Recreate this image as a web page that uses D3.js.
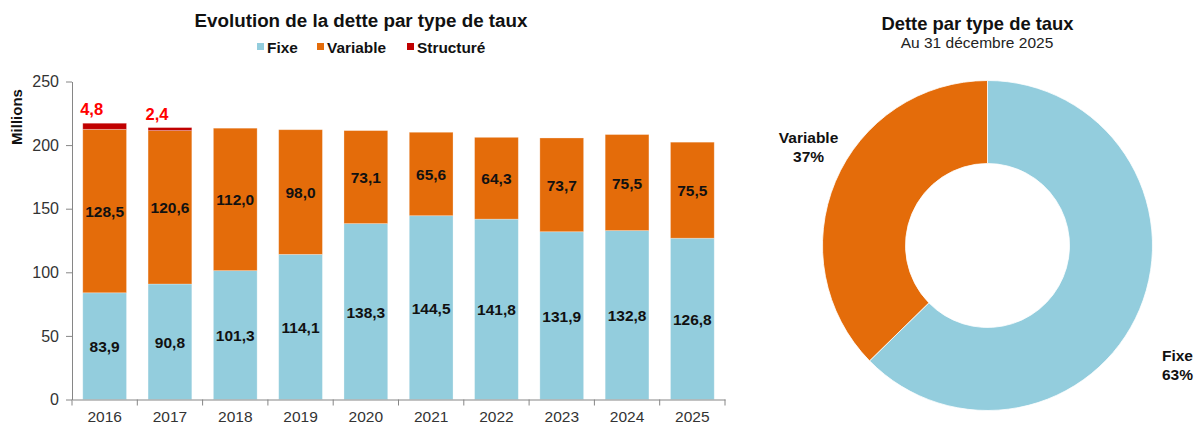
<!doctype html>
<html lang="fr">
<head>
<meta charset="UTF-8">
<title>Dette par type de taux</title>
<style>
  body { margin: 0; background: #fff; }
  svg text { font-family: "Liberation Sans", Arial, sans-serif; }
</style>
</head>
<body>
<svg id="chart" width="1195" height="425"></svg>
<script src="https://cdn.jsdelivr.net/npm/d3@7/dist/d3.min.js"></script>
<script>
// données
const years = ["2016", "2017", "2018", "2019", "2020", "2021", "2022", "2023", "2024", "2025"];
const fixe = [83.9, 90.8, 101.3, 114.1, 138.3, 144.5, 141.8, 131.9, 132.8, 126.8];
const variable = [128.5, 120.6, 112.0, 98.0, 73.1, 65.6, 64.3, 73.7, 75.5, 75.5];
const structure = [4.8, 2.4, 0, 0, 0, 0, 0, 0, 0, 0];
const seriesNames = ["Fixe", "Variable", "Structuré"];
const yTicks = [0, 50, 100, 150, 200, 250];

const colors = { "Fixe": "#93cddd", "Variable": "#e46c0a", "Structuré": "#c00000" };
const fmt = v => d3.format(".1f")(v).replace(".", ",");

const svg = d3.select("#chart");

// ---------- histogramme empilé ----------
const x = d3.scaleBand().domain(years).range([72, 725]).paddingInner(0.33).paddingOuter(0.165);
const y = d3.scaleLinear().domain([0, 250]).range([399.5, 81.5]);

const rows = years.map((yr, i) => ({ year: yr, "Fixe": fixe[i], "Variable": variable[i], "Structuré": structure[i] }));
const stack = d3.stack().keys(seriesNames)(rows);

svg.append("text")
  .attr("x", 361).attr("y", 27)
  .attr("text-anchor", "middle")
  .attr("font-size", 18.8).attr("font-weight", "bold").attr("fill", "#111")
  .text("Evolution de la dette par type de taux");

// légende
const legendX = [257, 317, 407];
const legend = svg.append("g");
seriesNames.forEach((s, i) => {
  legend.append("rect").attr("x", legendX[i]).attr("y", 43).attr("width", 7).attr("height", 7).attr("fill", colors[s]);
  legend.append("text").attr("x", legendX[i] + 10).attr("y", 53)
    .attr("font-size", 15.4).attr("font-weight", "bold").attr("fill", "#111").text(s);
});

// barres
svg.append("g").selectAll("g")
  .data(stack).join("g")
  .attr("fill", d => colors[d.key])
  .selectAll("rect")
  .data(d => d.filter(p => p[1] > p[0]))
  .join("rect")
  .attr("x", d => x(d.data.year))
  .attr("y", d => y(d[1]))
  .attr("width", x.bandwidth())
  .attr("height", d => y(d[0]) - y(d[1]))
  .attr("stroke", "#fff").attr("stroke-opacity", 0.35).attr("stroke-width", 0.8);

// étiquettes fixe / variable
stack.slice(0, 2).forEach(layer => {
  svg.append("g").selectAll("text")
    .data(layer).join("text")
    .attr("x", d => x(d.data.year) + x.bandwidth() / 2)
    .attr("y", d => (y(d[0]) + y(d[1])) / 2 + 6)
    .attr("text-anchor", "middle")
    .attr("font-size", 15.5).attr("font-weight", "bold").attr("fill", "#111")
    .text(d => fmt(d[1] - d[0]));
});

// étiquettes structuré
svg.append("g").selectAll("text")
  .data(stack[2].filter(p => p[1] > p[0])).join("text")
  .attr("x", d => x(d.data.year) + x.bandwidth() / 2 - 13)
  .attr("y", d => y(d[1]) - 8)
  .attr("text-anchor", "middle")
  .attr("font-size", 16.5).attr("font-weight", "bold").attr("fill", "#ff0000")
  .text(d => fmt(d[1] - d[0]));

// axe Y
const yAxis = svg.append("g").attr("transform", "translate(72,0)")
  .call(d3.axisLeft(y).tickValues(yTicks).tickSize(6).tickSizeOuter(0).tickPadding(7));
yAxis.selectAll("path, line").attr("stroke", "#868686");
yAxis.selectAll("text").attr("font-size", 16).attr("fill", "#333");

svg.append("text")
  .attr("transform", "translate(22,117) rotate(-90)")
  .attr("text-anchor", "middle")
  .attr("font-size", 15).attr("font-weight", "bold").attr("fill", "#111")
  .text("Millions");

// axe X
const xAxis = svg.append("g").attr("transform", "translate(0,399.5)")
  .call(d3.axisBottom(x).tickSize(0).tickSizeOuter(0).tickPadding(11));
xAxis.select("path").attr("stroke", "#868686");
xAxis.selectAll("text").attr("font-size", 15.5).attr("fill", "#333");
const bounds = d3.range(years.length + 1).map(i => x.range()[0] + i * x.step());
xAxis.selectAll(".sep").data(bounds).join("line")
  .attr("x1", d => d).attr("x2", d => d).attr("y1", 0).attr("y2", 6)
  .attr("stroke", "#868686");

// ---------- anneau ----------
const pieNames = ["Fixe", "Variable"];
const pieValues = [fixe[fixe.length - 1], variable[variable.length - 1]];
const labelNudge = [[1, 40], [10, -19]];
const total = d3.sum(pieValues);
const cx = 987.5, cy = 245.5, rOut = 165, rIn = 82;

svg.append("text")
  .attr("x", 977.5).attr("y", 30)
  .attr("text-anchor", "middle")
  .attr("font-size", 18.4).attr("font-weight", "bold").attr("fill", "#111")
  .text("Dette par type de taux");
svg.append("text")
  .attr("x", 977).attr("y", 48)
  .attr("text-anchor", "middle")
  .attr("font-size", 15.5).attr("fill", "#222")
  .text("Au 31 décembre 2025");

const pie = d3.pie().sort(null).value(d => d.value);
const arcs = pie(pieNames.map((n, i) => ({ name: n, value: pieValues[i] })));
const arc = d3.arc().innerRadius(rIn).outerRadius(rOut);
const labelArc = d3.arc().innerRadius(205).outerRadius(205);

const donut = svg.append("g").attr("transform", `translate(${cx},${cy})`);
donut.selectAll("path").data(arcs).join("path")
  .attr("d", arc)
  .attr("fill", d => colors[d.data.name])
  .attr("stroke", "#fff").attr("stroke-width", 0.8);

const lbl = donut.selectAll("text.lbl").data(arcs).join("text")
  .attr("class", "lbl")
  .attr("transform", (d, i) => {
    const c = labelArc.centroid(d);
    return `translate(${c[0] + labelNudge[i][0]},${c[1] + labelNudge[i][1]})`;
  })
  .attr("text-anchor", "middle")
  .attr("font-size", 15.5).attr("font-weight", "bold").attr("fill", "#111");
lbl.append("tspan").attr("x", 0).attr("y", -4).text(d => d.data.name);
lbl.append("tspan").attr("x", 0).attr("y", 15).text(d => Math.round(d.value / total * 100) + "%");
</script>
</body>
</html>
